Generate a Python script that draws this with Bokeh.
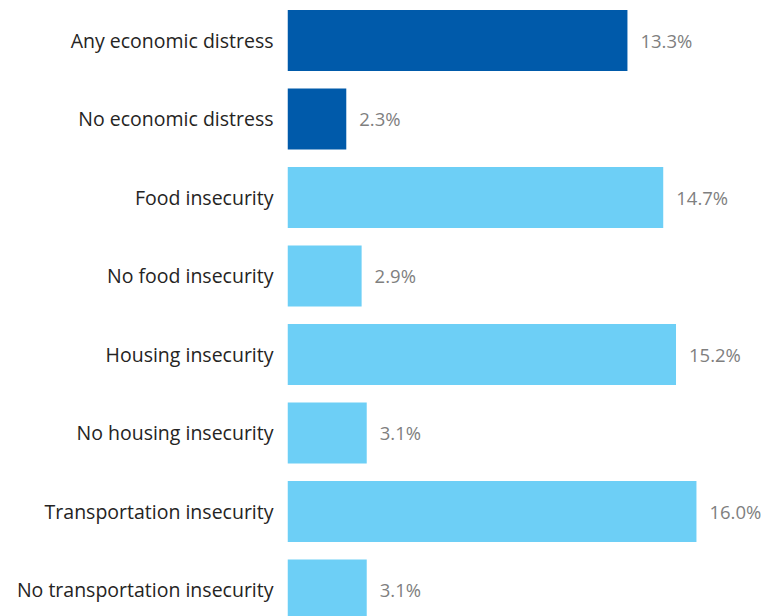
from bokeh.plotting import figure
from bokeh.models import ColumnDataSource, Range1d, FixedTicker
from bokeh.core.properties import value
from bokeh.embed import file_html
from bokeh.resources import INLINE

categories = ["Any economic distress", "No economic distress", "Food insecurity",
              "No food insecurity", "Housing insecurity", "No housing insecurity",
              "Transportation insecurity", "No transportation insecurity"]
values = [13.3, 2.3, 14.7, 2.9, 15.2, 3.1, 16.0, 3.1]
labels = ["13.3%", "2.3%", "14.7%", "2.9%", "15.2%", "3.1%", "16.0%", "3.1%"]
colors = ["#005AAA", "#005AAA", "#6DCFF6", "#6DCFF6", "#6DCFF6", "#6DCFF6", "#6DCFF6", "#6DCFF6"]

idx = list(range(len(categories)))
src = ColumnDataSource(dict(y=idx, v=values, lab=labels, c=colors))

FONT = "Open Sans"
p = figure(width=766, height=616, output_backend="svg", toolbar_location=None,
           x_range=Range1d(0, 479 / 25.56), y_range=Range1d(7.338, -0.5096),
           min_border=0, min_border_left=287)
p.hbar(y="y", left=0, right="v", height=0.777, fill_color="c", line_color=None, source=src)
p.text(x="v", y="y", text="lab", x_offset=13, text_baseline="middle", text_align="left",
       text_font=value(FONT), text_font_size="18.5px", text_color="#7F7F7F", source=src)

p.xaxis.visible = False
p.xgrid.visible = False
p.ygrid.visible = False
p.outline_line_color = None
ax = p.yaxis[0]
ax.ticker = FixedTicker(ticks=idx)
ax.major_label_overrides = {i: c for i, c in zip(idx, categories)}
ax.axis_line_color = None
ax.major_tick_line_color = None
ax.minor_tick_line_color = None
ax.major_label_standoff = 8
ax.major_label_text_font = FONT
ax.major_label_text_font_size = "19.5px"
ax.major_label_text_color = "#252423"

open("out.html", "w").write(file_html(p, INLINE))
